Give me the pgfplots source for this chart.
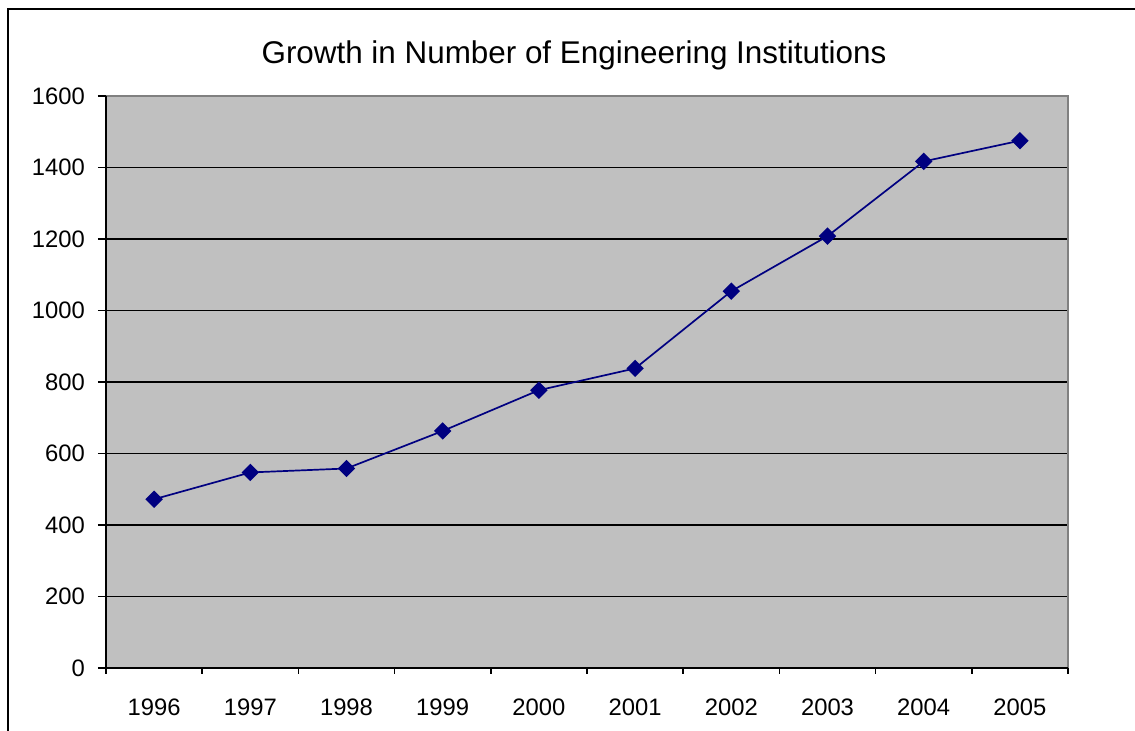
\documentclass[border=0pt]{standalone}
\usepackage{pgfplots}
\pgfplotsset{compat=1.18}
\usepackage{fontspec}
\setmainfont{Liberation Sans}
\definecolor{plotbg}{HTML}{C0C0C0}
\definecolor{navyline}{HTML}{000080}
\begin{document}
\begin{tikzpicture}
\useasboundingbox (0pt,0pt) rectangle (567.5pt,365.5pt);
\draw[line width=1pt] (4pt,-10pt) rectangle (580pt,361pt);
\node[font=\fontsize{15.7}{18}\selectfont] at (287pt,338pt) {Growth in Number of Engineering Institutions};
\begin{axis}[
  at={(53pt,31.5pt)}, anchor=south west,
  scale only axis, width=481pt, height=286pt,
  xmin=-0.5, xmax=9.5, ymin=0, ymax=1600,
  xtick={0,...,9},
  xticklabels={1996,1997,1998,1999,2000,2001,2002,2003,2004,2005},
  minor xtick={-0.5,0.5,...,9.5},
  ytick={0,200,...,1600},
  major x tick style={draw=none},
  minor x tick style={black, line width=0.8pt},
  y tick style={black, line width=0.8pt},
  tick align=outside, tick pos=left,
  major tick length=4pt, minor tick length=3pt,
  ymajorgrids, grid style={black, line width=0.7pt},
  axis background/.style={fill=plotbg},
  axis line style={draw=none},
  ticklabel style={font=\fontsize{11.9}{14}\selectfont},
  /pgf/number format/assume math mode=true,
  scaled y ticks=false,
  yticklabel style={/pgf/number format/1000 sep={}},
  xticklabel style={yshift=-8pt},
  yticklabel style={xshift=-3pt},
  clip=false,
]
\draw[color=gray, line width=0.8pt] (rel axis cs:0,1) -- (rel axis cs:1,1) -- (rel axis cs:1,0);
\draw[black, line width=1pt] (rel axis cs:0,1) -- (rel axis cs:0,0) -- (rel axis cs:1,0);
\addplot[color=navyline, line width=0.85pt, mark=square*, mark size=2.65pt,
  mark options={rotate=45, fill=navyline, draw=navyline}]
  coordinates {(0,472) (1,547) (2,558) (3,663) (4,777) (5,838) (6,1054) (7,1208) (8,1417) (9,1475)};
\end{axis}
\end{tikzpicture}
\end{document}
